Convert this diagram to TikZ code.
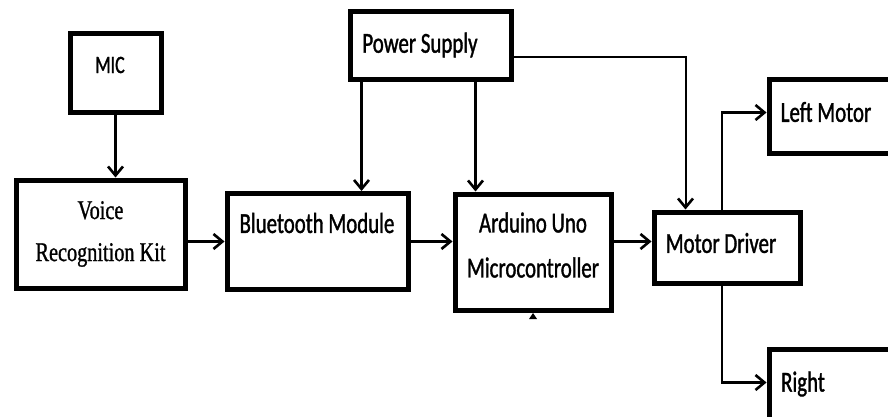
\documentclass[tikz,border=0pt]{standalone}
\usepackage{fontspec}
\setmainfont{Carlito}[FakeStretch=0.72, FakeBold=1.2]
\newfontfamily\voicefont{Liberation Serif}[FakeStretch=0.75, FakeBold=1]
\usetikzlibrary{arrows.meta, calc}

\begin{document}
\begin{tikzpicture}[x=1pt, y=-1pt,
    block/.style={draw, line width=5pt, inner sep=0pt},
    word/.style={font=\fontsize{29}{45}\selectfont, inner sep=0pt, align=center},
    link/.style={line width=2.6pt, -{Straight Barb[length=9pt, width=15pt, line width=2.6pt]}}]
\useasboundingbox (0,0) rectangle (888,417);
\clip (0,0) rectangle (888,417);

% boxes
\node[block, minimum width=91pt, minimum height=79pt] (mic) at (115.5,73.5) {};
\node[block, minimum width=169pt, minimum height=108pt, word,
      font=\voicefont\fontsize{27}{42}\selectfont] (voice) at (100.5,234) {Voice\\Recognition Kit};
\node[block, minimum width=181pt, minimum height=96pt] (bt) at (317.5,241.5) {};
\node[block, minimum width=161pt, minimum height=68pt] (ps) at (430.5,46) {};
\node[block, minimum width=156pt, minimum height=116pt] (ard) at (533,252) {};
\node[block, minimum width=146pt, minimum height=71pt] (md) at (727,247.5) {};
\node[block, minimum width=129pt, minimum height=73pt] (lm) at (833.5,116.5) {};
\node[block, minimum width=129pt, minimum height=79pt] (rt) at (833.5,388.5) {};

% texts
\node[word, font=\fontsize{25}{30}\selectfont] (mictxt) at (110,65) {MIC};
\node[word] (bttxt) at (317,223) {Bluetooth Module};
\node[word] (pstxt) at (420,45) {Power Supply};
\node[word] (ardtxt) at (533,245) {Arduino Uno\\Microcontroller};
\node[word] (mdtxt) at (721,243) {Motor Driver};
\node[word] (lmtxt) at (826,112) {Left Motor};
\node[word] (rttxt) at (803,384) {Right};

% connectors
\coordinate (mdin) at ([yshift=6pt]md.west);
\coordinate (psbt) at ([xshift=14pt]ps.south west);
\coordinate (psard) at ([xshift=-38pt]ps.south east);
\coordinate (psmd) at ([xshift=34pt]md.north west);
\coordinate (mdup) at ([xshift=-5pt]md.north);
\coordinate (mddn) at ([xshift=-5pt]md.south);

\draw[link] (mic.south) -- (mic.south |- voice.north);
\draw[link] (voice.east |- bt.west) -- (bt.west);
\draw[link] (bt.east) -- (bt.east -| ard.west);
\draw[link] (ard.east |- mdin) -- (mdin);
\draw[link] (psbt) -- (psbt |- bt.north);
\draw[link] (psard) -- (psard |- ard.north);
\draw[link, line width=2pt] ([yshift=-11pt]ps.east) -| (psmd);
\draw[link] (mdup) |- ([yshift=4pt]lm.west);
\draw[link] (mddn) |- ([yshift=6pt]rt.west);

\fill (529,319) -- (537,319) -- (533,313) -- cycle;
\end{tikzpicture}
\end{document}
